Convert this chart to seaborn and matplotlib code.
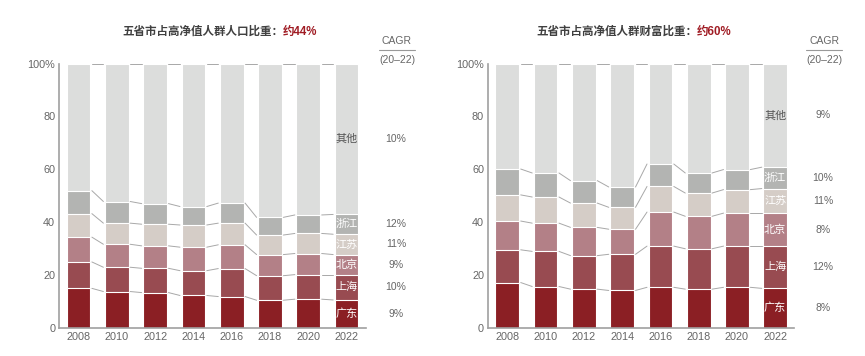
import numpy as np
import pandas as pd
import matplotlib
matplotlib.use("Agg")
import matplotlib.pyplot as plt
import matplotlib.transforms as mtransforms
import seaborn as sns

years = ["2008", "2010", "2012", "2014", "2016", "2018", "2020", "2022"]
regions = ["广东", "上海", "北京", "江苏", "浙江", "其他"]

# cumulative tops (%), bottom-up: 广东, 上海, 北京, 江苏, 浙江
pop_guangdong = [14.9, 13.7, 13.3, 12.2, 11.8, 10.4, 10.8, 10.5]
pop_shanghai = [24.9, 22.9, 22.5, 21.6, 22.4, 19.7, 20.1, 20.1]
pop_beijing = [34.3, 31.6, 31.0, 30.5, 31.4, 27.7, 28.1, 27.7]
pop_jiangsu = [43.2, 39.6, 39.2, 38.9, 39.6, 35.1, 35.7, 35.4]
pop_zhejiang = [51.9, 47.8, 47.0, 45.9, 47.2, 41.8, 42.7, 42.9]

wealth_guangdong = [17.1, 15.6, 14.6, 14.1, 15.3, 14.6, 15.3, 14.9]
wealth_shanghai = [29.5, 28.9, 27.3, 27.8, 30.9, 29.9, 30.9, 30.9]
wealth_beijing = [40.4, 39.6, 38.0, 37.3, 43.8, 42.2, 43.4, 43.4]
wealth_jiangsu = [50.3, 49.5, 47.2, 45.6, 53.5, 51.0, 52.3, 52.7]
wealth_zhejiang = [60.1, 58.6, 55.7, 53.3, 62.0, 58.6, 59.9, 60.8]

pop_cagr = ["9%", "10%", "9%", "11%", "12%", "10%"]
wealth_cagr = ["8%", "12%", "8%", "11%", "10%", "9%"]

titles = [("五省市占高净值人群人口比重：", "约44%"), ("五省市占高净值人群财富比重：", "约60%")]

colors = ["#8b1f24", "#984b51", "#b38087", "#d5cdc7", "#b3b4b2", "#dcdddc"]
label_colors = ["white", "white", "white", "white", "white", "#555555"]

sns.set_style("white")
plt.rcParams["font.family"] = ["Liberation Sans", "Noto Sans CJK SC", "DejaVu Sans"]


def build_frame(cols):
    rows = []
    for k, name in enumerate(regions):
        for i, y in enumerate(years):
            rows.append({"year": y, "region": name, "top": cols[k][i]})
    return pd.DataFrame(rows)


pop_df = build_frame([pop_guangdong, pop_shanghai, pop_beijing, pop_jiangsu, pop_zhejiang, [100] * 8])
wealth_df = build_frame([wealth_guangdong, wealth_shanghai, wealth_beijing, wealth_jiangsu, wealth_zhejiang, [100] * 8])

fig = plt.figure(figsize=(8.65, 3.56), dpi=100)
ax_left = fig.add_axes([0.0686, 0.0795, 0.3542, 0.7416])
ax_right = fig.add_axes([0.5644, 0.0795, 0.3539, 0.7416])

width = 0.62
tick_color = "#666666"

for ax, df, cagr, cagr_x, title, split_x in [
    (ax_left, pop_df, pop_cagr, 396, titles[0], 283),
    (ax_right, wealth_df, wealth_cagr, 823, titles[1], 697),
]:
    # draw cumulative bars from the top layer down so they stack
    for k in range(len(regions) - 1, -1, -1):
        sub = df[df["region"] == regions[k]]
        sns.barplot(data=sub, x="year", y="top", order=years, color=colors[k],
                    width=width, edgecolor="white", linewidth=0.8,
                    saturation=1, ax=ax)

    ax.set_xlim(-0.5, 7.5)
    ax.set_ylim(0, 100)

    # connector lines between neighbouring bars
    for k in range(len(regions)):
        tops = df[df["region"] == regions[k]]["top"].to_numpy()
        for i in range(len(years) - 1):
            ax.plot([i + width / 2 + 0.04, i + 1 - width / 2 - 0.04], [tops[i], tops[i + 1]],
                    color="#a8a8a8", lw=0.7, zorder=1)

    # labels on the last bar and CAGR column
    trans = mtransforms.blended_transform_factory(fig.transFigure, ax.transData)
    last = len(years) - 1
    prev = 0
    for k in range(len(regions)):
        top = df[(df["region"] == regions[k]) & (df["year"] == years[last])]["top"].iloc[0]
        mid = (prev + top) / 2
        ax.text(last, mid, regions[k], ha="center", va="center", fontsize=8,
                color=label_colors[k])
        ax.text(cagr_x / 865, mid, cagr[k], ha="center", va="center", transform=trans,
                fontsize=7.5, color=tick_color, clip_on=False)
        prev = top

    ax.set_yticks([0, 20, 40, 60, 80, 100])
    ax.set_yticklabels(["0", "20", "40", "60", "80", "100%"])
    ax.set_xlabel("")
    ax.set_ylabel("")
    ax.tick_params(axis="both", length=0, labelsize=7.8, colors=tick_color, pad=3)
    sns.despine(ax=ax)
    for side in ["left", "bottom"]:
        ax.spines[side].set_color("#a0a0a0")
        ax.spines[side].set_linewidth(1.2)

    # title in two colours
    fig.text(split_x / 865, 1 - 32 / 356, title[0], ha="right", va="center",
             fontsize=8.3, fontweight="bold", color="#404040")
    fig.text(split_x / 865, 1 - 32 / 356, title[1], ha="left", va="center",
             fontsize=8.3, fontweight="bold", color="#a01c24")

    # CAGR header
    hx = cagr_x + 1
    fig.text(hx / 865, 1 - 41 / 356, "CAGR", ha="center", va="center",
             fontsize=7.5, color=tick_color)
    fig.text(hx / 865, 1 - 60 / 356, "(20–22)", ha="center", va="center",
             fontsize=7.5, color=tick_color)
    fig.add_artist(plt.Line2D([(hx - 18) / 865, (hx + 18) / 865],
                              [1 - 50 / 356, 1 - 50 / 356],
                              color="#999999", lw=0.8))

fig.savefig("out.png", dpi=100)
